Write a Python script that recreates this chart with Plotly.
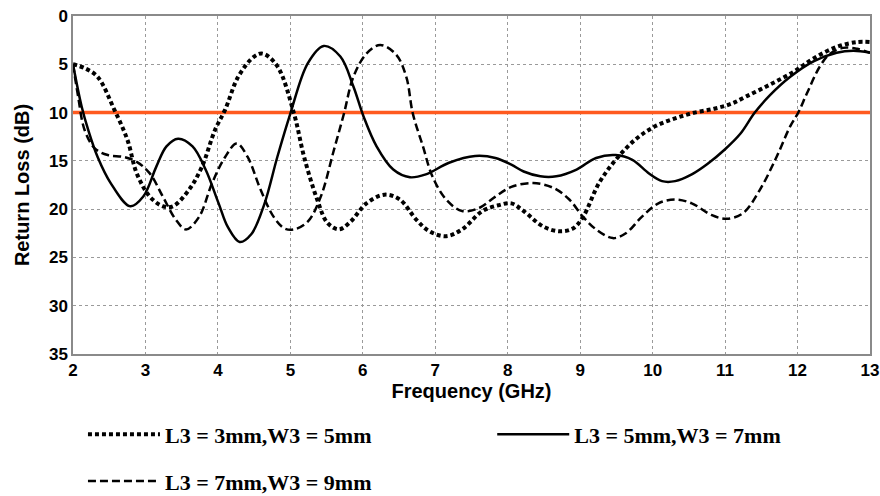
import plotly.graph_objects as go

# Dotted: L3 = 3mm, W3 = 5mm
f_a = [2.0, 2.16, 2.34, 2.57, 2.75, 2.88, 3.06, 3.24, 3.38, 3.6, 3.78, 3.96, 4.1, 4.28, 4.5, 4.62, 4.82,
       5.05, 5.19, 5.37, 5.51, 5.67, 5.83, 6.05, 6.3, 6.51, 6.74, 6.92, 7.15, 7.37, 7.65, 7.87, 8.05,
       8.22, 8.49, 8.72, 8.9, 9.04, 9.26, 9.49, 9.76, 10.04, 10.31, 10.58, 10.85, 11.08, 11.3, 11.62,
       11.94, 12.22, 12.54, 12.82, 13.0]
rl_a = [5.0, 5.4, 6.3, 9.7, 12.8, 16.3, 18.7, 19.7, 19.7, 18.0, 15.6, 11.8, 9.7, 6.3, 4.2, 3.9, 5.2,
        10.1, 14.6, 19.0, 21.4, 22.1, 21.3, 19.4, 18.5, 19.0, 21.1, 22.3, 22.8, 22.1, 20.2, 19.6, 19.4,
        20.2, 21.8, 22.3, 22.0, 20.8, 17.3, 14.9, 12.8, 11.4, 10.6, 10.0, 9.6, 9.1, 8.3, 7.1,
        5.8, 4.4, 3.2, 2.7, 2.7]

# Solid: L3 = 5mm, W3 = 7mm
f_b = [2.0, 2.12, 2.21, 2.34, 2.52, 2.79, 2.97, 3.15, 3.29, 3.45, 3.65, 3.83, 4.01, 4.14, 4.3, 4.46,
       4.64, 4.82, 5.0, 5.24, 5.46, 5.69, 5.87, 6.01, 6.19, 6.42, 6.65, 6.87, 7.19, 7.55, 7.83,
       8.05, 8.22, 8.45, 8.67, 8.95, 9.22, 9.49, 9.72, 9.95, 10.13, 10.31, 10.54, 10.76, 11.0, 11.21,
       11.41, 11.62, 11.9, 12.22, 12.54, 12.77, 13.0]
rl_b = [5.0, 9.4, 11.8, 14.6, 17.3, 19.7, 18.7, 15.6, 13.5, 12.7, 13.5, 15.9, 19.4, 21.9, 23.4, 22.6,
        19.5, 14.6, 10.1, 4.9, 3.1, 4.2, 7.3, 10.4, 13.5, 15.9, 16.7, 16.4, 15.2, 14.5, 14.7,
        15.4, 16.1, 16.6, 16.6, 15.9, 14.7, 14.4, 14.9, 16.3, 17.1, 17.1, 16.4, 15.3, 13.8, 12.2,
        10.0, 8.2, 6.3, 4.7, 3.8, 3.6, 3.8]

# Dashed: L3 = 7mm, W3 = 9mm
f_c = [2.0, 2.07, 2.16, 2.3, 2.48, 2.7, 2.88, 3.06, 3.24, 3.42, 3.56, 3.74, 3.92, 4.1, 4.26, 4.41,
       4.59, 4.77, 4.92, 5.05, 5.24, 5.42, 5.6, 5.74, 5.87, 6.05, 6.24, 6.46, 6.6, 6.69, 6.83, 6.96,
       7.15, 7.37, 7.6, 7.83, 8.05, 8.35, 8.63, 8.85, 9.04, 9.22, 9.45, 9.63, 9.85, 10.08, 10.31,
       10.54, 10.81, 11.02, 11.25, 11.48, 11.71, 11.9, 12.01, 12.13, 12.31, 12.45, 12.63, 12.82, 13.0]
rl_c = [5.0, 8.3, 11.8, 13.7, 14.4, 14.6, 15.1, 16.3, 18.7, 21.1, 22.1, 20.8, 17.3, 14.6, 13.2, 14.6,
        18.0, 20.8, 22.0, 22.1, 21.3, 18.7, 13.9, 10.1, 6.3, 3.9, 3.0, 4.0, 6.3, 10.1, 13.5, 16.6,
        19.0, 20.2, 19.9, 18.7, 17.7, 17.3, 17.8, 19.0, 20.8, 22.1, 23.0, 22.5, 20.8, 19.4, 19.0,
        19.4, 20.6, 21.0, 20.4, 18.0, 14.6, 11.4, 10.0, 8.0, 5.2, 3.9, 3.3, 3.4, 3.8]

# -10 dB reference line
f_ref = [2, 13]
rl_ref = [10, 10]

x_ticks = list(range(2, 14))
y_ticks = [0, 5, 10, 15, 20, 25, 30, 35]

SANS = "Liberation Sans"
SERIF = "Liberation Serif"

fig = go.Figure()
fig.add_trace(go.Scatter(x=f_ref, y=rl_ref, mode="lines", line=dict(color="#FF5A1F", width=3.5),
                         showlegend=False, hoverinfo="skip"))
fig.add_trace(go.Scatter(x=f_a, y=rl_a, mode="lines", name="L3 = 3mm,W3 = 5mm",
                         line=dict(color="black", width=4, dash="4px,3px", shape="spline", smoothing=1.0),
                         legend="legend"))
fig.add_trace(go.Scatter(x=f_b, y=rl_b, mode="lines", name="L3 = 5mm,W3 = 7mm",
                         line=dict(color="black", width=2.5, shape="spline", smoothing=1.0),
                         legend="legend2"))
fig.add_trace(go.Scatter(x=f_c, y=rl_c, mode="lines", name="L3 = 7mm,W3 = 9mm",
                         line=dict(color="black", width=2.5, dash="8px,4px", shape="spline", smoothing=1.0),
                         legend="legend3"))

axis_common = dict(showgrid=True, gridcolor="#9a9a9a", griddash="dot", gridwidth=1,
                   showline=True, linecolor="#8a8a8a", linewidth=1.5, mirror=True,
                   zeroline=False, ticks="", automargin=False,
                   tickfont=dict(family=SANS, size=17, color="black", weight="bold"))

fig.update_xaxes(range=[2, 13], tickvals=x_ticks, ticktext=[str(v) for v in x_ticks],
                 title=dict(text="Frequency (GHz)", font=dict(family=SANS, size=20, color="black", weight="bold"),
                            standoff=5),
                 **axis_common)
fig.update_yaxes(range=[35, 0], tickvals=y_ticks, ticktext=[str(v) for v in y_ticks],
                 title=dict(text="Return Loss (dB)", font=dict(family=SANS, size=20, color="black", weight="bold"),
                            standoff=14),
                 **axis_common)

legend_font = dict(family=SERIF, size=22, color="black", weight="bold")
leg = dict(orientation="h", xanchor="left", yanchor="middle", xref="paper", yref="container",
           font=legend_font, itemwidth=72, bgcolor="rgba(0,0,0,0)")
fig.update_layout(
    width=880, height=496,
    margin=dict(l=73, r=10, t=16, b=142),
    plot_bgcolor="white", paper_bgcolor="white",
    legend=dict(x=0.0125, y=0.124, **leg),
    legend2=dict(x=0.526, y=0.124, **leg),
    legend3=dict(x=0.0125, y=0.03, **leg),
)

fig.write_html("out.html")
